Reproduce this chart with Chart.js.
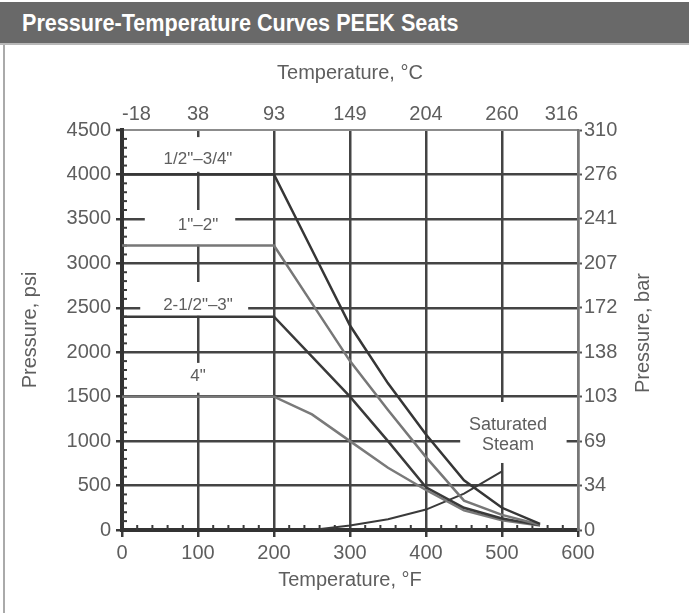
<!DOCTYPE html>
<html><head><meta charset="utf-8">
<script src="https://cdn.jsdelivr.net/npm/chart.js@4.4.0/dist/chart.umd.min.js"></script>
<style>
html,body{margin:0;padding:0;background:#fff;width:689px;height:613px;overflow:hidden;font-family:"Liberation Sans",Arial,sans-serif;}
#wrap{position:absolute;left:0;top:0;width:689px;height:613px;}
#bar{position:absolute;left:0;top:2px;width:689px;height:41px;background:#696969;border-bottom:2px solid #b8b8b8;}
#bar span{position:absolute;left:22px;top:7px;color:#fff;font-weight:bold;font-size:24px;line-height:27px;transform:scaleX(0.9);transform-origin:left center;white-space:nowrap;}
#frame{position:absolute;left:3px;top:45px;width:2px;height:568px;background:#aaaaaa;}
</style></head>
<body>
<div id="wrap"><canvas id="c" width="689" height="613"></canvas></div>
<div id="bar"><span>Pressure-Temperature Curves PEEK Seats</span></div>
<div id="frame"></div>
<script>
// ---- data ----
const tempF = [0, 200, 250, 300, 350, 400, 450, 500, 550];
const psiHalfToThreeQuarter = [4000, 4000, 3150, 2300, 1650, 1075, 560, 250, 70];
const psiOneToTwo = [3200, 3200, 2550, 1900, 1350, 820, 330, 170, 60];
const psiTwoHalfToThree = [2400, 2400, 1950, 1500, 1000, 480, 250, 130, 55];
const psiFour = [1500, 1500, 1300, 1000, 700, 450, 220, 110, 50];
const steamF = [250, 300, 350, 400, 450, 500];
const steamPsi = [0, 50, 120, 230, 410, 660];
const seriesNames = ['1/2"–3/4"', '1"–2"', '2-1/2"–3"', '4"'];
const steamName = ['Saturated', 'Steam'];
const celsiusLabels = ['-18', '38', '93', '149', '204', '260', '316'];
const barLabels = ['0', '34', '69', '103', '138', '172', '207', '241', '276', '310'];

// ---- layout / style (not data) ----
const TXT = '#5e5e5e';
const GRID = '#444444';
const FONT = '"Liberation Sans", Arial, sans-serif';
const labelSpots = [
  {text:[seriesNames[0]], x:100, y:[4165], box:[30,170,4030,4420]},
  {text:[seriesNames[1]], x:100, y:[3430], box:[30,149,3210,3600]},
  {text:[seriesNames[2]], x:100, y:[2530], box:[24,166,2410,2790]},
  {text:[seriesNames[3]], x:100, y:[1730], box:[75,125,1545,1880]},
  {text:steamName, x:508, y:[1181, 956], box:[445,585,754,1440]}
];

function pts(xs, ys){ return xs.map((x,i)=>({x:x, y:ys[i]})); }

const labelPlugin = {
  id:'labels',
  beforeDatasetsDraw(chart){
    const ctx = chart.ctx, xs = chart.scales.x, ys = chart.scales.y;
    ctx.save();
    // minor ticks
    ctx.strokeStyle = '#3a3a3a'; ctx.lineWidth = 2;
    const x0 = xs.getPixelForValue(0), y0 = ys.getPixelForValue(0);
    for(let v=100; v<4500; v+=100){ if(v%500===0) continue;
      const p = ys.getPixelForValue(v);
      ctx.beginPath(); ctx.moveTo(x0, p); ctx.lineTo(x0+5, p); ctx.stroke(); }
    for(let v=20; v<600; v+=20){ if(v%100===0) continue;
      const p = xs.getPixelForValue(v);
      ctx.beginPath(); ctx.moveTo(p, y0); ctx.lineTo(p, y0-5); ctx.stroke(); }
    // label boxes + text
    labelSpots.forEach(s=>{
      const l = xs.getPixelForValue(s.box[0]), r = xs.getPixelForValue(s.box[1]);
      const b = ys.getPixelForValue(s.box[2]), t = ys.getPixelForValue(s.box[3]);
      ctx.fillStyle = '#fff'; ctx.fillRect(l, t, r-l, b-t);
      ctx.fillStyle = TXT; ctx.font = (s.text.length>1?'18px ':'17px ') + FONT;
      ctx.textAlign = 'center'; ctx.textBaseline = 'middle';
      s.text.forEach((tx,i)=> ctx.fillText(tx, xs.getPixelForValue(s.x), ys.getPixelForValue(s.y[i])));
    });
    ctx.restore();
  },
  afterDraw(chart){
    // right-hand axis title, reading bottom-to-top like the left one
    const ctx = chart.ctx, ys = chart.scales.y2;
    ctx.save();
    ctx.translate(ys.right - 16, (chart.chartArea.top + chart.chartArea.bottom)/2 + 3);
    ctx.rotate(-Math.PI/2);
    ctx.fillStyle = TXT; ctx.font = '20px ' + FONT;
    ctx.textAlign = 'center'; ctx.textBaseline = 'middle';
    ctx.fillText('Pressure, bar', 0, 0);
    ctx.restore();
  }
};

const tickFont = {family: FONT, size: 20};
const titleFont = {family: FONT, size: 20};

new Chart(document.getElementById('c'), {
  type:'line',
  data:{ datasets:[
    {label:seriesNames[0], data:pts(tempF, psiHalfToThreeQuarter), borderColor:'#363636', borderWidth:2.5},
    {label:seriesNames[1], data:pts(tempF, psiOneToTwo), borderColor:'#777777', borderWidth:2.5},
    {label:seriesNames[2], data:pts(tempF, psiTwoHalfToThree), borderColor:'#3a3a3a', borderWidth:2.5},
    {label:seriesNames[3], data:pts(tempF, psiFour), borderColor:'#7a7a7a', borderWidth:2.5},
    {label:'Saturated Steam', data:pts(steamF, steamPsi), borderColor:'#3a3a3a', borderWidth:2}
  ]},
  options:{
    responsive:false, animation:false, devicePixelRatio:1,
    layout:{padding:{left:14, right:30, top:57, bottom:17}},
    elements:{point:{radius:0}, line:{tension:0, fill:false}},
    plugins:{legend:{display:false}, tooltip:{enabled:false}},
    scales:{
      x:{type:'linear', position:'bottom', min:0, max:600,
        afterFit:s=>{s.height=66;},
        ticks:{stepSize:100, font:tickFont, color:TXT, padding:4, maxRotation:0, callback:v=>String(v)},
        grid:{color:c=>c.tick && c.tick.value===600 ? '#777' : GRID, lineWidth:2.5, tickLength:7, tickColor:'#3a3a3a', tickWidth:2.5},
        border:{color:'#333', width:4},
        title:{display:true, text:'Temperature, °F', font:titleFont, color:TXT, padding:4}},
      x2:{type:'linear', position:'top', min:0, max:600,
        afterFit:s=>{s.height=73;},
        ticks:{stepSize:100, font:tickFont, color:TXT, padding:-4, maxRotation:0, align:'inner', callback:v=>celsiusLabels[Math.round(v/100)]},
        grid:{display:false}, border:{display:false},
        title:{display:true, text:'Temperature, °C', font:titleFont, color:TXT, padding:4}},
      y:{type:'linear', position:'left', min:0, max:4500,
        afterFit:s=>{s.width=108;},
        ticks:{stepSize:500, font:tickFont, color:TXT, padding:5, callback:v=>String(v)},
        grid:{color:c=>c.tick && c.tick.value===4500 ? '#8c8c8c' : GRID, lineWidth:c=>c.tick && c.tick.value===4500 ? 2 : 2.5, tickLength:6, tickColor:'#3a3a3a', tickWidth:2.5},
        border:{color:'#333', width:4},
        title:{display:true, text:'Pressure, psi', font:titleFont, color:TXT, padding:4}},
      y2:{type:'linear', position:'right', min:0, max:4500,
        afterFit:s=>{s.width=81;},
        ticks:{stepSize:500, font:tickFont, color:TXT, padding:2, callback:v=>barLabels[Math.round(v/500)]},
        grid:{drawOnChartArea:false, tickLength:4, tickColor:'#555', tickWidth:2},
        border:{color:'#777', width:2.5},
        title:{display:false, text:'Pressure, bar'}}
    }
  },
  plugins:[labelPlugin]
});
</script>
</body></html>
